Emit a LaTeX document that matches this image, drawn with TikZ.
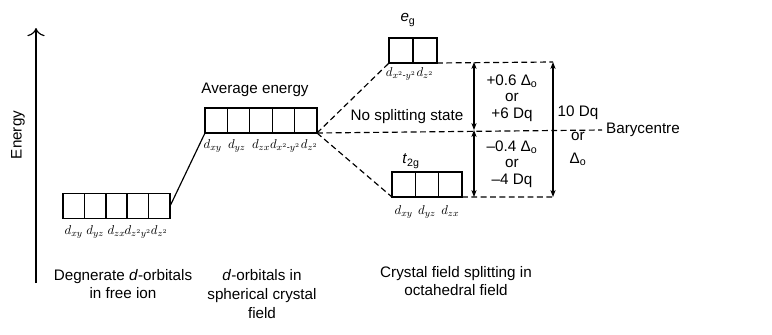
\documentclass[tikz,border=0pt]{standalone}
\usepackage{amsmath}
\usepackage{fontspec}
\setmainfont{Liberation Sans}
\usepackage{tikz}
\usetikzlibrary{arrows.meta, positioning}

\begin{document}
\begin{tikzpicture}[x=0.03cm, y=-0.03cm,
  orb/.style={draw, line width=1.1pt, minimum width=0.66cm, minimum height=0.75cm, inner sep=0pt, outer sep=0pt},
  sub/.style={font=\fontsize{11}{13}\selectfont, inner sep=0.5pt},
  txt/.style={font=\fontsize{13}{16}\selectfont, align=center},
  gaptxt/.style={font=\fontsize{13}{14}\selectfont, align=center},
  split/.style={line width=1pt, dash pattern=on 5pt off 3pt},
  gap/.style={{Stealth[length=6pt]}-{Stealth[length=6pt]}, line width=1pt}
]
\useasboundingbox (0,0) rectangle (772,335);

% energy axis
\coordinate (ebot) at (36,283);
\coordinate (etop) at (36,28);
\draw[-{To[length=7pt]}, line width=1pt] (ebot) -- (etop);
\node[txt, rotate=90] (energy) at (18,135) {Energy};

% free ion
\foreach \i/\o in {1/xy,2/yz,3/zx,4/z^2y^2,5/z^2} {
  \node[orb, minimum width=0.648cm] (f\i) at ({63+21.4*(\i-0.5)},206) {};
  \node[sub, below=5pt of f\i] {$d_{\o}$};
}
\node[txt] (free) at (123,284) {Degnerate \textit{d}-orbitals\\in free ion};

% spherical field
\foreach \i/\o in {1/xy,2/yz,3/zx,4/x^2\text{-}y^2,5/z^2} {
  \node[orb, minimum width=0.672cm] (s\i) at ({205+22.4*(\i-0.5)},120.5) {};
  \node[sub, below=5pt of s\i, xshift={(\i-3)*1.5pt}] {$d_{\o}$};
}
\node[txt] (avg) at (255,90) {Average energy};
\node[txt] (sphere) at (262,294) {\textit{d}-orbitals in\\spherical crystal\\field};
\draw[line width=1pt] (f5.east) -- (s1.south west);

% octahedral field
\foreach \i/\o in {1/x^2\text{-}y^2,2/z^2} {
  \node[orb, minimum width=0.72cm] (e\i) at ({389+24*(\i-0.5)},50.5) {};
  \node[sub, below=3pt of e\i] {$d_{\o}$};
}
\foreach \i/\o in {1/xy,2/yz,3/zx} {
  \node[orb, minimum width=0.7cm] (t\i) at ({392+23.3*(\i-0.5)},184.5) {};
  \node[sub, below=7pt of t\i] {$d_{\o}$};
}
\node[txt] (eg) at (408,20) {\textit{e}\textsubscript{g}};
\node[txt] (tg) at (411,161) {\textit{t}\textsubscript{2g}};
\node[txt] (nosplit) at (407,117) {No splitting state};
\node[txt] (octa) at (456,281) {Crystal field splitting in\\octahedral field};

\coordinate (egR) at (553,62);
\coordinate (tgR) at (553,197);
\coordinate (bary) at (602,130);
\coordinate (egM) at (474,62);
\coordinate (bcM) at (474,130);
\coordinate (tgM) at (474,197);

\draw[split] (s5.south east) -- (e1.south west);
\draw[split] (s5.south east) -- (t1.south west);
\draw[split] (s5.south east) -- (bary);
\draw[split] (e2.south east) -- (egR);
\draw[split] (t3.south east) -- (tgR);

\draw[gap] (egM) -- (bcM);
\draw[gap] (bcM) -- (tgM);
\draw[gap] (egR) -- (tgR);

\node[gaptxt] (up) at (512,98) {+0.6 Δ\textsubscript{o}\\or\\+6 Dq};
\node[gaptxt] (down) at (512,164) {–0.4 Δ\textsubscript{o}\\or\\–4 Dq};
\node[txt, font=\fontsize{13}{20}\selectfont] (total) at (578,136) {10 Dq\\or\\Δ\textsubscript{o}};
\node[txt, anchor=west] (barylbl) at (bary) {Barycentre};
\end{tikzpicture}
\end{document}
